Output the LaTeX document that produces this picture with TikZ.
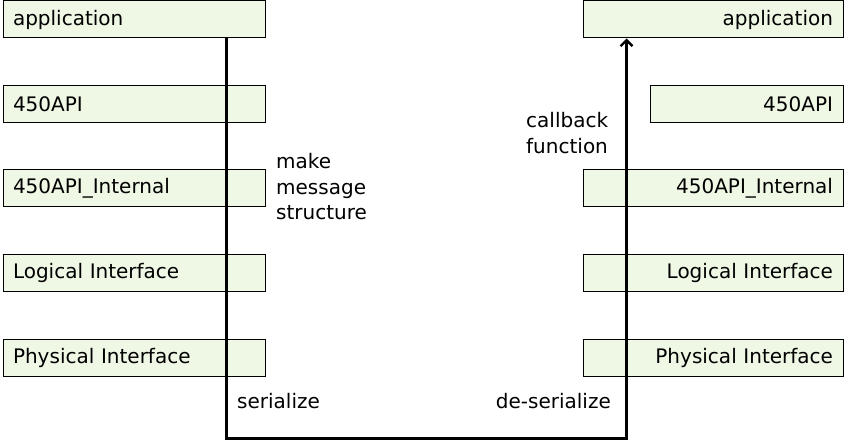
\documentclass[tikz,border=0pt]{standalone}
\usepackage{fontspec}
\setmainfont{DejaVu Sans}
\usetikzlibrary{positioning, arrows.meta}

\definecolor{layergreen}{RGB}{239,247,229}

\begin{document}
\begin{tikzpicture} [x=1pt, y=-1pt,
                node distance = 84.5pt,
                on grid,
                layer/.style = {draw, fill=layergreen, line width=1pt,
                    minimum height=37pt, inner xsep=10pt, inner ysep=0pt,
                    font=\fontsize{20}{23}\selectfont},
                lbox/.style = {layer, text width=242pt, align=left},
                rbox/.style = {layer, text width=240pt, align=right},
                note/.style = {font=\fontsize{20}{25.5}\selectfont, inner sep=0pt}]

            \useasboundingbox (0,0) rectangle (847,441);

            % Sender layers
            \node (lapp) [lbox] at (134,19.5) {application};
            \node (lapi) [lbox, below = of lapp] {450API};
            \node (lint) [lbox, below = of lapi] {450API\_Internal};
            \node (llog) [lbox, below = of lint] {Logical Interface};
            \node (lphy) [lbox, below = of llog] {Physical Interface};

            % Receiver layers
            \node (rapp) [rbox] at (713,19.5) {application};
            \node (rapi) [layer, text width=173pt, align=right,
                anchor=east] at (rapp.east |- lapi.center) {450API};
            \node (rint) [rbox, below = 169pt of rapp] {450API\_Internal};
            \node (rlog) [rbox, below = of rint] {Logical Interface};
            \node (rphy) [rbox, below = of rlog] {Physical Interface};

            % Message path
            \coordinate (lbot) at (226.5,438.5);
            \coordinate (rbot) at (626.5,438.5);
            \draw [line width=2.4pt, -{Straight Barb[length=6pt, width=12pt]}]
                (lapp.south -| lbot) -- (lbot) -- (rbot) -- (rapp.south -| rbot);

            % Labels
            \node (make) [note, anchor=west, align=left] at (276,187)
                {make\\message\\structure};
            \node (cb) [note, anchor=west, align=left] at (526,133)
                {callback\\function};
            \node (ser) [note, anchor=west] at (237,401) {serialize};
            \node (deser) [note, anchor=east] at (611,401) {de-serialize};
\end{tikzpicture}
\end{document}
